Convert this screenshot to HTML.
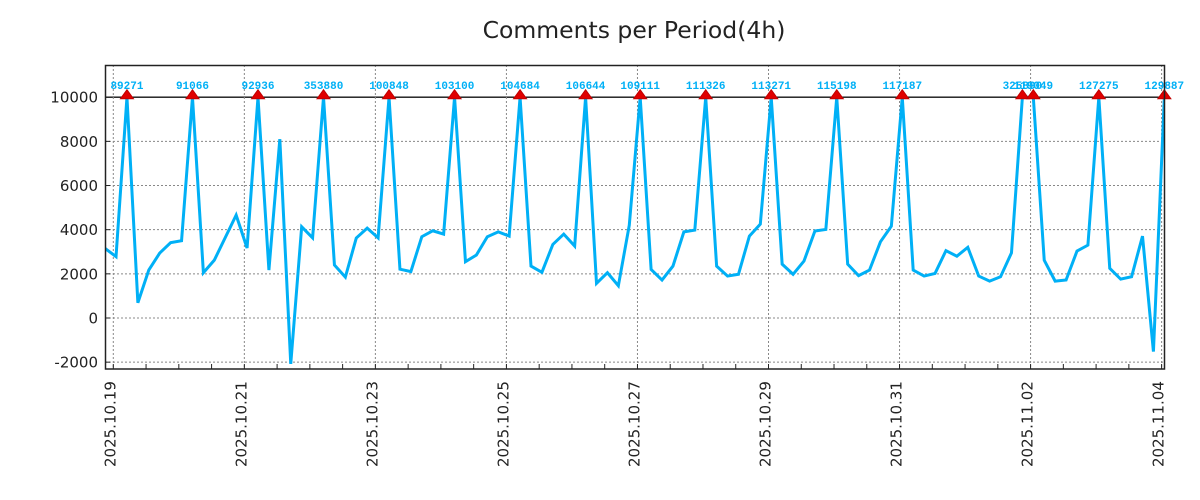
<!DOCTYPE html>
<html><head><meta charset="utf-8"><style>
html,body{margin:0;padding:0;background:#fff;width:1200px;height:500px;overflow:hidden}
svg{display:block;position:absolute;left:0;top:0}
</style></head><body>
<svg id="chart" width="1200" height="500" xmlns="http://www.w3.org/2000/svg" font-family="'DejaVu Sans','Liberation Sans',sans-serif">
<rect width="1200" height="500" fill="#fff"/>
<text x="634" y="38" text-anchor="middle" font-size="23.5" fill="#222">Comments per Period(4h)</text>
<defs><clipPath id="clip"><rect x="105" y="65" width="1059.5" height="304"/></clipPath></defs>
<g id="grid"></g>
<g id="series" clip-path="url(#clip)"></g>
<g id="marks"></g>
<rect x="105.5" y="65.5" width="1059" height="303.5" fill="none" stroke="#222" stroke-width="1.5"/>
<g id="axes"></g>
</svg>
<script>
const values = [3150,2780,89271,690,2170,2940,3410,3500,91066,2050,2620,3640,4660,3170,92936,2170,8100,-2080,4130,3630,353880,2400,1850,3620,4070,3630,100848,2210,2100,3680,3950,3800,103100,2550,2850,3680,3900,3710,104684,2350,2070,3330,3800,3260,106644,1570,2050,1460,4200,109111,2200,1720,2350,3900,3980,111326,2350,1900,1980,3710,4250,113271,2440,1980,2580,3940,4010,115198,2440,1920,2170,3450,4160,117187,2170,1900,2020,3050,2800,3200,1900,1670,1870,2950,325890,119049,2620,1670,1720,3030,3300,127275,2250,1760,1870,3710,-1520,129887,-2000];
const startHour = -3; // first point: 2025.10.18 21:00
const stepHours = 4;
const clipValue = 10000;
const yTicks = [-2000,0,2000,4000,6000,8000,10000];
const xTickLabels = ["2025.10.19","2025.10.21","2025.10.23","2025.10.25","2025.10.27","2025.10.29","2025.10.31","2025.11.02","2025.11.04"];
const xTickDays = [0,2,4,6,8,10,12,14,16];

const NS="http://www.w3.org/2000/svg";
const X0=113.3, DAY=65.52;
const xHour = h => X0 + h/24*DAY;
const yVal = v => 318 - v*0.02208;
function mk(tag, attrs, parent){const e=document.createElementNS(NS,tag);for(const k in attrs)e.setAttribute(k,attrs[k]);parent.appendChild(e);return e;}
const grid=document.getElementById('grid'), series=document.getElementById('series'), marks=document.getElementById('marks'), axes=document.getElementById('axes');

yTicks.forEach(v=>{
  const y=yVal(v);
  if(v<clipValue){const g=mk('line',{x1:105,x2:1164,y1:y,y2:y,stroke:'#888','stroke-width':1,'stroke-dasharray':'2,2'},grid);
  
  }
  const t=mk('line',{x1:105,x2:110,y1:y,y2:y,stroke:'#222'},axes);
  
  
  const l=mk('text',{x:98,y:y+5.5,'text-anchor':'end','font-size':15,fill:'#222'},axes);
  l.textContent=v;
  
  
});
const ref=mk('line',{x1:105,x2:1164,y1:yVal(clipValue),y2:yVal(clipValue),stroke:'#111','stroke-width':1.3},grid);



for(let d=0; d<=16; d+=0.5){
  const x=xHour(d*24);
  const t=mk('line',{x1:x,x2:x,y1:369,y2:364,stroke:'#222'},axes);
  
  
}
xTickDays.forEach((d,i)=>{
  const x=xHour(d*24);
  const g=mk('line',{x1:x,x2:x,y1:65,y2:369,stroke:'#888','stroke-width':1,'stroke-dasharray':'2,2'},grid);
  
  
  const l=mk('text',{x:x+2,y:467,'font-size':15,fill:'#222',transform:`rotate(-90 ${x+2} 467)`},axes);
  l.textContent=xTickLabels[i];
  
  
});

const pts=values.map((v,i)=>[xHour(startHour+i*stepHours), yVal(Math.min(v,clipValue))]);
const line=mk('polyline',{points:pts.map(p=>p.join(',')).join(' '),fill:'none',stroke:'#00b0f6','stroke-width':3,'stroke-linejoin':'miter'},series);



values.forEach((v,i)=>{
  if(v<=clipValue) return;
  const [x,y]=pts[i];
  if(x>1166) return;
  const m=mk('polygon',{points:`${x-6.5},${y+1.5} ${x+6.5},${y+1.5} ${x},${y-7.5}`,fill:'#e00000',stroke:'#c00000','stroke-width':1},marks);
  
  
  const l=mk('text',{x:x,y:y-8,'text-anchor':'middle','font-size':11,'font-weight':'bold','font-family':"'Liberation Mono','DejaVu Sans Mono',monospace",fill:'#00b0f6'},marks);
  l.textContent=v;
  
  
});
</script>
</body></html>
